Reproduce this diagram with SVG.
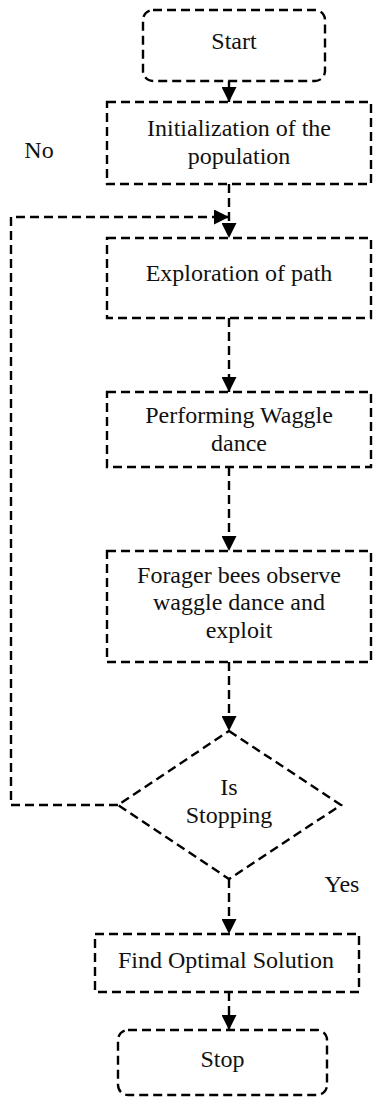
<svg xmlns="http://www.w3.org/2000/svg" width="377" height="1097" viewBox="0 0 377 1097">
<style>
.box{fill:none;stroke:#000;stroke-width:2.4;stroke-dasharray:9 5;}
.conn{fill:none;stroke:#000;stroke-width:2.4;stroke-dasharray:9 5;}
text{font-family:"Liberation Serif","Times New Roman",serif;font-size:24px;fill:#111;text-anchor:middle;}
</style>
<defs>
<marker id="arr" viewBox="0 0 15 15" refX="15" refY="7.5" markerWidth="15" markerHeight="15" markerUnits="userSpaceOnUse" orient="auto">
<path d="M0,0 L15,7.5 L0,15 z" fill="#000"/>
</marker>
</defs>
<rect width="377" height="1097" fill="#fff"/>
<g id="connectors">
<line class="conn" x1="229" y1="81" x2="229" y2="102" marker-end="url(#arr)"/>
<line class="conn" x1="229" y1="184" x2="229" y2="238" marker-end="url(#arr)"/>
<polyline class="conn" points="118,805 11,805 11,217 229,217" marker-end="url(#arr)"/>
<line class="conn" x1="229" y1="318" x2="229" y2="392" marker-end="url(#arr)"/>
<line class="conn" x1="229" y1="467" x2="229" y2="551" marker-end="url(#arr)"/>
<line class="conn" x1="229" y1="662" x2="229" y2="731" marker-end="url(#arr)"/>
<line class="conn" x1="229" y1="879" x2="229" y2="934" marker-end="url(#arr)"/>
<line class="conn" x1="229" y1="992" x2="229" y2="1030" marker-end="url(#arr)"/>
<text x="39" y="158">No</text>
<text x="342" y="892">Yes</text>
</g>
<g id="start">
<rect class="box" x="143" y="10" width="182" height="71" rx="10"/>
<text x="234" y="49">Start</text>
</g>
<g id="init">
<rect class="box" x="107" y="102" width="264" height="82"/>
<text x="239" y="136">Initialization of the</text>
<text x="239" y="164">population</text>
</g>
<g id="explore">
<rect class="box" x="107" y="238" width="264" height="80"/>
<text x="239" y="281">Exploration of path</text>
</g>
<g id="waggle">
<rect class="box" x="107" y="392" width="264" height="75"/>
<text x="239" y="423">Performing Waggle</text>
<text x="239" y="451">dance</text>
</g>
<g id="forager">
<rect class="box" x="107" y="551" width="264" height="111"/>
<text x="239" y="583">Forager bees observe</text>
<text x="239" y="610">waggle dance and</text>
<text x="239" y="638">exploit</text>
</g>
<g id="decision">
<polygon class="box" points="229,731 341,805 229,879 118,805"/>
<text x="229" y="795">Is</text>
<text x="229" y="823">Stopping</text>
</g>
<g id="optimal">
<rect class="box" x="95" y="934" width="264" height="58"/>
<text x="226" y="968">Find Optimal Solution</text>
</g>
<g id="stop">
<rect class="box" x="118" y="1030" width="209" height="65" rx="10"/>
<text x="222.5" y="1067">Stop</text>
</g>
</svg>
